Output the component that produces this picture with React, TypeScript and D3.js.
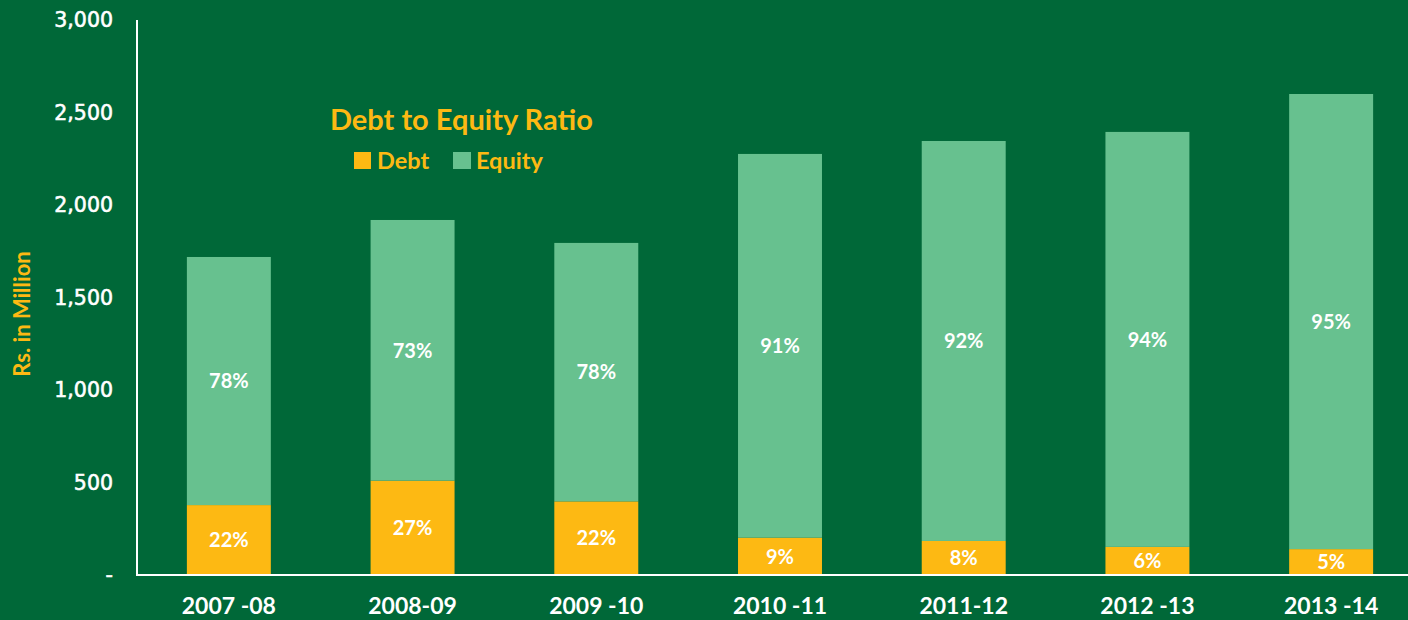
import React from "react";
import * as d3 from "d3";

const categories = ["2007 -08", "2008-09", "2009 -10", "2010 -11", "2011-12", "2012 -13", "2013 -14"];
const debtValues = [378, 510, 398, 202, 184, 152, 140];
const equityValues = [1341, 1409, 1397, 2074, 2162, 2243, 2460];
const debtPct = ["22%", "27%", "22%", "9%", "8%", "6%", "5%"];
const equityPct = ["78%", "73%", "78%", "91%", "92%", "94%", "95%"];
const yTicks = [0, 500, 1000, 1500, 2000, 2500, 3000];

const W = 1408;
const H = 620;
const BG = "#006838";
const DEBT = "#FDB913";
const EQUITY = "#67C18F";
const GOLD = "#FDB913";
const LABEL_FONT = "Lato, 'DejaVu Sans', sans-serif";
const TICK_FONT = "'DejaVu Sans', sans-serif";

export default function App() {
  React.useEffect(() => {
    document.body.style.margin = "0";
    document.body.style.background = BG;
  }, []);

  const x = d3
    .scaleBand<string>()
    .domain(categories)
    .range([137, 1423])
    .paddingInner(0.543)
    .paddingOuter(0.2715);
  const y = d3.scaleLinear().domain([0, 3000]).range([575, 20]);
  const fmt = d3.format(",");

  return (
    <svg width={W} height={H} style={{ position: "absolute", left: 0, top: 0, display: "block" }}>
      <rect x={0} y={0} width={W} height={H} fill={BG} />
      {categories.map((c, i) => {
        const x0 = x(c)!;
        const bw = x.bandwidth();
        const d = debtValues[i];
        const e = equityValues[i];
        const cx = x0 + bw / 2;
        return (
          <g key={c}>
            <rect x={x0} y={y(d)} width={bw} height={y(0) - y(d)} fill={DEBT} />
            <rect x={x0} y={y(d + e)} width={bw} height={y(d) - y(d + e)} fill={EQUITY} />
            <text
              x={cx}
              y={(y(0) + y(d)) / 2}
              dy="0.36em"
              textAnchor="middle"
              fill="#fff"
              fontFamily={LABEL_FONT}
              fontWeight={700}
              fontSize={20}
            >
              {debtPct[i]}
            </text>
            <text
              x={cx}
              y={(y(d) + y(d + e)) / 2}
              dy="0.36em"
              textAnchor="middle"
              fill="#fff"
              fontFamily={LABEL_FONT}
              fontWeight={700}
              fontSize={20}
            >
              {equityPct[i]}
            </text>
            <text
              x={cx}
              y={614}
              textAnchor="middle"
              fill="#fff"
              fontFamily={LABEL_FONT}
              fontWeight={700}
              fontSize={23}
            >
              {c}
            </text>
          </g>
        );
      })}
      {/* axes */}
      <line x1={137} y1={20} x2={137} y2={576} stroke="#fff" strokeWidth={2} />
      <line x1={136} y1={575} x2={W} y2={575} stroke="#fff" strokeWidth={2} />
      {yTicks.map((t) => (
        <text
          key={t}
          x={113}
          y={y(t)}
          dy="0.36em"
          textAnchor="end"
          fill="#fff"
          stroke="#fff"
          strokeWidth={0.6}
          fontFamily={TICK_FONT}
          fontSize={20.5}
        >
          {t === 0 ? "-" : fmt(t)}
        </text>
      ))}
      <text
        transform={`translate(30,314) rotate(-90)`}
        textAnchor="middle"
        fill={GOLD}
        fontFamily={LABEL_FONT}
        fontWeight={700}
        fontSize={22}
      >
        Rs. in Million
      </text>
      {/* title & legend */}
      <text x={330} y={130} fill={GOLD} fontFamily={LABEL_FONT} fontWeight={700} fontSize={29}>
        Debt to Equity Ratio
      </text>
      <rect x={354} y={152} width={17} height={17} fill={DEBT} />
      <text x={377} y={169} fill={GOLD} fontFamily={LABEL_FONT} fontWeight={700} fontSize={23.5}>
        Debt
      </text>
      <rect x={453} y={152} width={18} height={17} fill={EQUITY} />
      <text x={476} y={169} fill={GOLD} fontFamily={LABEL_FONT} fontWeight={700} fontSize={23.5}>
        Equity
      </text>
    </svg>
  );
}
